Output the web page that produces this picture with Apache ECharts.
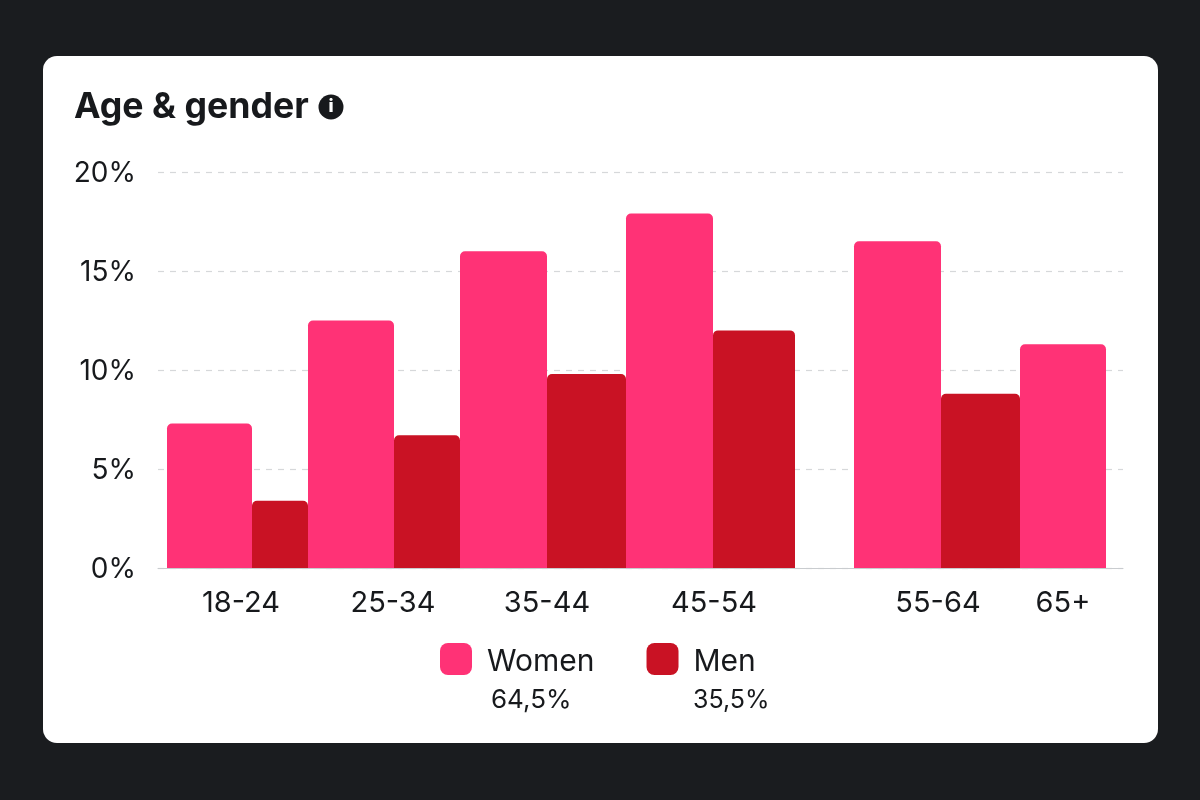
<!DOCTYPE html>
<html><head><meta charset="utf-8">
<style>html,body{margin:0;padding:0;background:#1a1c1f}#c{width:1200px;height:800px}</style>
<script src="https://cdn.jsdelivr.net/npm/echarts@6/dist/echarts.min.js"></script>
</head><body><div id="c"></div>
<script>
const titleText = 'Age & gender';
const categories = ['18-24','25-34','35-44','45-54','55-64','65+'];
const categoryCenters = [241,393,547,714,938,1063];
const womenValues = [7.3,12.5,16,17.9,16.5,11.3];
const womenStart = [167,308,460,626,854,1020];
const womenEnd = [252,394,547,713,941,1106];
const menValues = [3.4,6.7,9.8,12,8.8];
const menStart = [252,394,547,713,941];
const menEnd = [308,460,626,795,1020];
const yTicks = [0,5,10,15,20];
const shares = ['64,5%','35,5%'];
const FONT = 'Inter';
const WOMEN = '#ff3276', MEN = '#c91224', INK = '#17191c';

function barRender(color){
  return function(params, api){
    const a = api.coord([api.value(0), api.value(2)]);
    const b = api.coord([api.value(1), 0]);
    return {type:'rect',
      shape:{x:a[0],y:a[1],width:b[0]-a[0],height:b[1]-a[1],r:[5,5,0,0]},
      style:{fill:color}};
  };
}
const chart = echarts.init(document.getElementById('c'),null,{renderer:'canvas'});
chart.setOption({
  animation:false,
  backgroundColor:'#1a1c1f',
  title:{text:titleText,left:74,top:89,padding:0,textStyle:{fontFamily:FONT,fontWeight:700,fontSize:35.7,color:INK}},
  grid:{left:158,right:77,top:172,bottom:232,containLabel:false},
  xAxis:{type:'value',min:158,max:1123,splitLine:{show:false},
    axisLine:{show:true,onZero:false,lineStyle:{color:'#c9cccf',width:1}},
    axisTick:{show:false},
    axisLabel:{customValues:categoryCenters,margin:21,fontFamily:FONT,fontSize:29,color:INK,
      formatter:v=>categories[categoryCenters.indexOf(v)]}},
  yAxis:{type:'value',min:0,max:20,interval:5,axisLine:{show:false},axisTick:{show:false},
    axisLabel:{margin:22,formatter:v=>'{a|'+v+'%}',
      rich:{a:{fontFamily:FONT,fontSize:28,color:INK,padding:[4,0,0,0]}}},
    splitLine:{show:true,lineStyle:{color:'#d6d8da',type:[6,6],width:1.2}}},
  legend:{left:440,top:643,padding:0,itemWidth:32,itemHeight:32,itemGap:52,icon:'roundRect',
    data:['Women','Men'],selectedMode:false,
    formatter:n=>'{a|'+n+'}',
    textStyle:{padding:[0,0,0,10],rich:{a:{fontFamily:FONT,fontSize:30,color:INK,padding:[6,0,0,0]}}}},
  series:[
    {name:'Women',type:'custom',renderItem:barRender(WOMEN),itemStyle:{color:WOMEN},
     encode:{x:[0,1],y:2},data:womenValues.map((v,i)=>[womenStart[i],womenEnd[i],v])},
    {name:'Men',type:'custom',renderItem:barRender(MEN),itemStyle:{color:MEN},
     encode:{x:[0,1],y:2},data:menValues.map((v,i)=>[menStart[i],menEnd[i],v])}
  ],
  graphic:[
    {type:'rect',z:-100,silent:true,shape:{x:43,y:56,width:1115,height:687,r:14},style:{fill:'#fff'}},
    {type:'circle',z:10,shape:{cx:331,cy:107,r:12.5},style:{fill:INK}},
    {type:'text',z:11,x:331,y:107,style:{text:'i',fill:'#fff',font:'800 18px Inter',textAlign:'center',textVerticalAlign:'middle'}},
    {type:'text',z:10,x:491,y:700,style:{text:shares[0],fill:INK,font:'400 26px Inter',textVerticalAlign:'middle'}},
    {type:'text',z:10,x:693,y:700,style:{text:shares[1],fill:INK,font:'400 25px Inter',textVerticalAlign:'middle'}}
  ]
});
</script></body></html>
